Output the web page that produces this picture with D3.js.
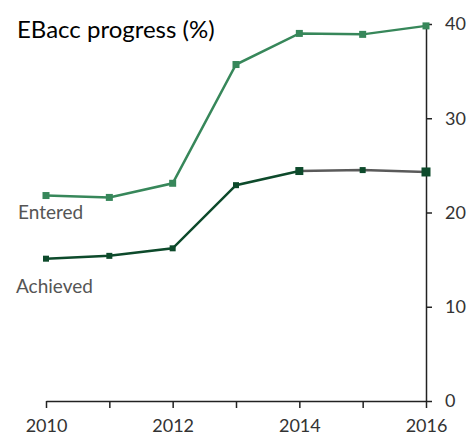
<!DOCTYPE html>
<html>
<head>
<meta charset="utf-8">
<script src="https://cdn.jsdelivr.net/npm/d3@7"></script>
<style>
  body { margin: 0; background: #fff; }
  text { font-family: Lato, "Open Sans", sans-serif; }
</style>
</head>
<body>
<div id="chart"></div>
<script>
  // data
  var years = [2010, 2011, 2012, 2013, 2014, 2015, 2016];
  var entered = [21.8, 21.6, 23.1, 35.7, 39.0, 38.9, 39.8];
  var achieved = [15.1, 15.4, 16.2, 22.9, 24.4, 24.5, 24.3];
  var yTicks = [0, 10, 20, 30, 40];
  var xTicks = [2010, 2012, 2014, 2016];

  var width = 470, height = 439;
  var margin = {top: 24, right: 44, bottom: 38, left: 46};

  var svg = d3.select("#chart").append("svg")
      .attr("width", width)
      .attr("height", height);

  var x = d3.scaleLinear()
      .domain([2010, 2016])
      .range([margin.left, width - margin.right]);

  var y = d3.scaleLinear()
      .domain([0, 40])
      .range([height - margin.bottom, margin.top]);

  // x axis
  var xAxis = svg.append("g")
      .attr("transform", "translate(0," + y(0) + ")")
      .call(d3.axisBottom(x).tickValues(years).tickSize(7).tickSizeOuter(0)
        .tickFormat(function(d) { return xTicks.indexOf(d) >= 0 ? d : ""; }));

  // y axis on the right
  var yAxis = svg.append("g")
      .attr("transform", "translate(" + x(2016) + ",0)")
      .call(d3.axisRight(y).tickValues(yTicks).tickSize(6).tickSizeOuter(0).tickPadding(13));

  [xAxis, yAxis].forEach(function(a) {
    a.select(".domain").attr("stroke", "#222").attr("stroke-width", 1.5);
    a.selectAll(".tick line").attr("stroke", "#222").attr("stroke-width", 1.5);
    a.selectAll(".tick text")
      .attr("fill", "#333")
      .style("font-size", "18px");
  });
  xAxis.selectAll(".tick text").attr("dy", "1.15em");

  var line = d3.line()
      .x(function(d, i) { return x(years[i]); })
      .y(function(d) { return y(d); });

  // Entered line
  svg.append("path")
      .datum(entered)
      .attr("fill", "none")
      .attr("stroke", "#37875a")
      .attr("stroke-width", 2.5)
      .attr("d", line);

  // Achieved line: green up to 2014, grey after
  svg.append("path")
      .datum(achieved.slice(0, 5))
      .attr("fill", "none")
      .attr("stroke", "#0d4a2b")
      .attr("stroke-width", 2.5)
      .attr("d", line);

  svg.append("path")
      .datum(achieved.slice(4))
      .attr("fill", "none")
      .attr("stroke", "#5a5a5a")
      .attr("stroke-width", 2.5)
      .attr("d", d3.line()
        .x(function(d, i) { return x(years[i + 4]); })
        .y(function(d) { return y(d); }));

  // markers
  svg.append("g").selectAll("rect")
      .data(entered)
      .enter().append("rect")
        .attr("x", function(d, i) { return x(years[i]) - 3.5; })
        .attr("y", function(d) { return y(d) - 3.5; })
        .attr("width", 7)
        .attr("height", 7)
        .attr("fill", "#37875a");

  var aSize = [6, 6, 6, 6, 8, 6, 9];
  svg.append("g").selectAll("rect")
      .data(achieved)
      .enter().append("rect")
        .attr("x", function(d, i) { return x(years[i]) - aSize[i] / 2; })
        .attr("y", function(d, i) { return y(d) - aSize[i] / 2; })
        .attr("width", function(d, i) { return aSize[i]; })
        .attr("height", function(d, i) { return aSize[i]; })
        .attr("fill", "#0d4a2b");

  // title
  svg.append("text")
      .attr("x", 17)
      .attr("y", 38)
      .attr("fill", "#000")
      .style("font-size", "24px")
      .text("EBacc progress (%)");

  // series labels
  svg.append("text")
      .attr("x", 18)
      .attr("y", 219)
      .attr("fill", "#555")
      .style("font-size", "19px")
      .text("Entered");

  svg.append("text")
      .attr("x", 16)
      .attr("y", 293)
      .attr("fill", "#555")
      .style("font-size", "19px")
      .text("Achieved");
</script>
</body>
</html>
